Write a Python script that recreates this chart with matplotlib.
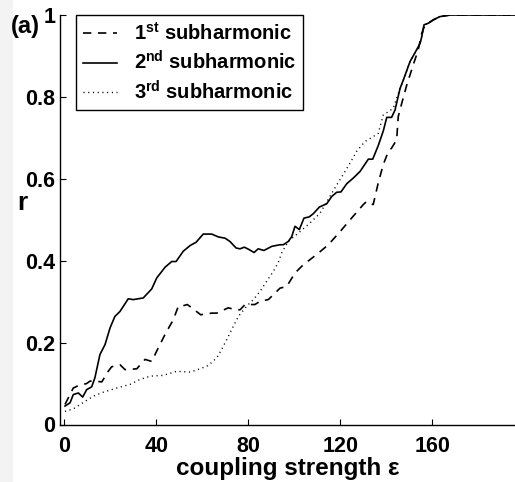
import matplotlib
matplotlib.use("Agg")
import matplotlib.pyplot as plt
from matplotlib.patches import Rectangle

plt.rcParams['font.family'] = ['Liberation Sans', 'DejaVu Sans']
plt.rcParams['font.weight'] = 'bold'
plt.rcParams['mathtext.fontset'] = 'custom'
plt.rcParams['mathtext.rm'] = 'Liberation Sans:bold'
plt.rcParams['mathtext.bf'] = 'Liberation Sans:bold'

# 1st subharmonic
eps_1 = [0.3, 3.9, 6.1, 9.7, 11.2, 13.3, 16.3, 19.1, 20.6, 24.2, 26.4, 31.5, 35.1, 38.0,
         40.5, 43.8, 47.4, 49.6, 51.7, 53.5, 56.1, 59.3, 64.1, 66.3, 71.3, 73.2, 76.4,
         78.6, 82.9, 85.1, 88.7, 90.9, 93.8, 96.7, 100.3, 103.9, 109.7, 114.8, 119.9,
         124.9, 130.0, 131.5, 134.3, 136.5, 138.7, 140.9, 142.3, 144.5, 145.2, 146.7,
         148.9, 151.7, 153.9, 155.4, 156.8, 158.3, 160.4, 163.3, 167.7, 196.0]
r_1 = [0.049, 0.089, 0.095, 0.100, 0.106, 0.106, 0.104, 0.130, 0.141, 0.146, 0.134, 0.136,
       0.159, 0.154, 0.183, 0.220, 0.256, 0.289, 0.290, 0.293, 0.282, 0.268, 0.272, 0.272,
       0.285, 0.282, 0.280, 0.293, 0.293, 0.301, 0.305, 0.317, 0.333, 0.337, 0.370, 0.390,
       0.415, 0.439, 0.471, 0.504, 0.537, 0.545, 0.537, 0.590, 0.635, 0.667, 0.675, 0.695,
       0.752, 0.784, 0.829, 0.878, 0.915, 0.955, 0.976, 0.980, 0.988, 0.996, 1.000, 1.000]

# 2nd subharmonic
eps_2 = [0.3, 2.5, 3.9, 6.1, 8.0, 9.7, 11.9, 13.3, 15.5, 17.7, 19.9, 22.0, 24.2, 27.8,
         30.0, 34.3, 38.0, 40.2, 43.8, 46.7, 48.6, 51.7, 54.7, 57.3, 60.4, 64.1, 67.0,
         69.9, 72.0, 74.7, 76.4, 78.3, 80.4, 82.5, 84.3, 86.8, 90.2, 93.8, 95.2, 97.4,
         98.9, 100.3, 102.2, 104.2, 106.5, 108.3, 110.9, 114.1, 116.3, 118.4, 120.3,
         122.8, 125.7, 128.6, 132.2, 134.1, 136.5, 138.7, 140.2, 142.3, 143.8, 146.0,
         147.4, 150.3, 152.5, 154.7, 155.4, 156.4, 158.3, 160.4, 163.3, 167.7, 196.0]
r_2 = [0.045, 0.053, 0.073, 0.077, 0.067, 0.085, 0.092, 0.114, 0.171, 0.195, 0.236, 0.264,
       0.276, 0.307, 0.305, 0.309, 0.331, 0.358, 0.384, 0.398, 0.398, 0.423, 0.437, 0.445,
       0.465, 0.465, 0.458, 0.455, 0.447, 0.431, 0.429, 0.433, 0.427, 0.420, 0.429, 0.425,
       0.435, 0.439, 0.439, 0.447, 0.459, 0.484, 0.476, 0.504, 0.507, 0.515, 0.531, 0.539,
       0.557, 0.567, 0.568, 0.588, 0.602, 0.618, 0.648, 0.648, 0.681, 0.717, 0.750, 0.750,
       0.768, 0.821, 0.841, 0.886, 0.908, 0.931, 0.947, 0.976, 0.980, 0.988, 0.996, 1.000,
       1.000]

# 3rd subharmonic
eps_3 = [0.3, 3.9, 8.3, 12.6, 17.0, 22.8, 28.6, 32.9, 37.3, 43.0, 48.9, 54.7, 59.0, 62.6,
         66.3, 68.4, 70.6, 73.5, 75.7, 79.3, 82.2, 85.1, 88.0, 90.9, 93.0, 94.5, 97.4,
         102.5, 106.8, 111.2, 116.3, 119.9, 124.2, 127.1, 130.7, 134.3, 136.5, 138.7,
         143.0, 146.0, 147.4, 150.3, 152.5, 154.7, 155.4, 156.6, 158.3, 160.4, 163.3,
         167.7, 196.0]
r_3 = [0.032, 0.038, 0.054, 0.069, 0.079, 0.089, 0.098, 0.110, 0.118, 0.120, 0.130, 0.128,
       0.136, 0.144, 0.163, 0.183, 0.207, 0.240, 0.264, 0.289, 0.305, 0.325, 0.350, 0.374,
       0.395, 0.419, 0.447, 0.471, 0.492, 0.516, 0.565, 0.598, 0.638, 0.667, 0.691, 0.703,
       0.711, 0.756, 0.772, 0.821, 0.841, 0.886, 0.908, 0.931, 0.947, 0.976, 0.980, 0.988,
       0.996, 1.000, 1.000]

labels = [r'1$^{\rm st}$ subharmonic', r'2$^{\rm nd}$ subharmonic', r'3$^{\rm rd}$ subharmonic']
x_ticks = [0, 40, 80, 120, 160]
y_ticks = [0, 0.2, 0.4, 0.6, 0.8, 1]
y_ticklabels = ['0', '0.2', '0.4', '0.6', '0.8', '1']

W, H = 515, 482
fig = plt.figure(figsize=(W / 100, H / 100), dpi=100)
fig.patches.append(Rectangle((0, 0), 13 / W, 1, transform=fig.transFigure,
                             facecolor='#f3f3f3', edgecolor='none', zorder=-1))

ax = fig.add_axes([60.3 / W, (H - 424.5) / H, (W - 60.3) / W, (424.5 - 15) / H])
ax.plot(eps_1, r_1, color='black', lw=1.2, dashes=(5, 4), label=labels[0])
ax.plot(eps_2, r_2, color='black', lw=1.2, label=labels[1])
ax.plot(eps_3, r_3, color='black', lw=1.0, dashes=(0.8, 2.6), label=labels[2])

ax.set_xlim(-1.74, 195.96)
ax.set_ylim(0, 1)
ax.spines['top'].set_visible(False)
ax.spines['right'].set_visible(False)
for s in ('left', 'bottom'):
    ax.spines[s].set_linewidth(1.0)
ax.set_xticks(x_ticks)
ax.set_yticks(y_ticks)
ax.set_yticklabels(y_ticklabels)
ax.tick_params(direction='in', length=4, width=0.8, labelsize=15.5)
ax.tick_params(axis='x', pad=8)
ax.tick_params(axis='y', pad=3.5)

ax.set_xlabel('coupling strength ε', fontsize=17.5, fontweight='bold', labelpad=0)
fig.text(17 / W, 1 - 203 / H, 'r', fontsize=19, fontweight='bold', ha='left', va='center')
fig.text(11 / W, 1 - 27 / H, '(a)', fontsize=17, fontweight='bold', ha='left', va='center')

leg = ax.legend(loc='upper left', bbox_to_anchor=(16 / (W - 60.3), 1.0), fontsize=14.5,
                frameon=True, fancybox=False, framealpha=1, edgecolor='black',
                handlelength=1.65, handletextpad=0.85, labelspacing=0.32, borderpad=0.35,
                borderaxespad=0)
leg.get_frame().set_linewidth(1.0)

fig.savefig('out.png', dpi=100)
